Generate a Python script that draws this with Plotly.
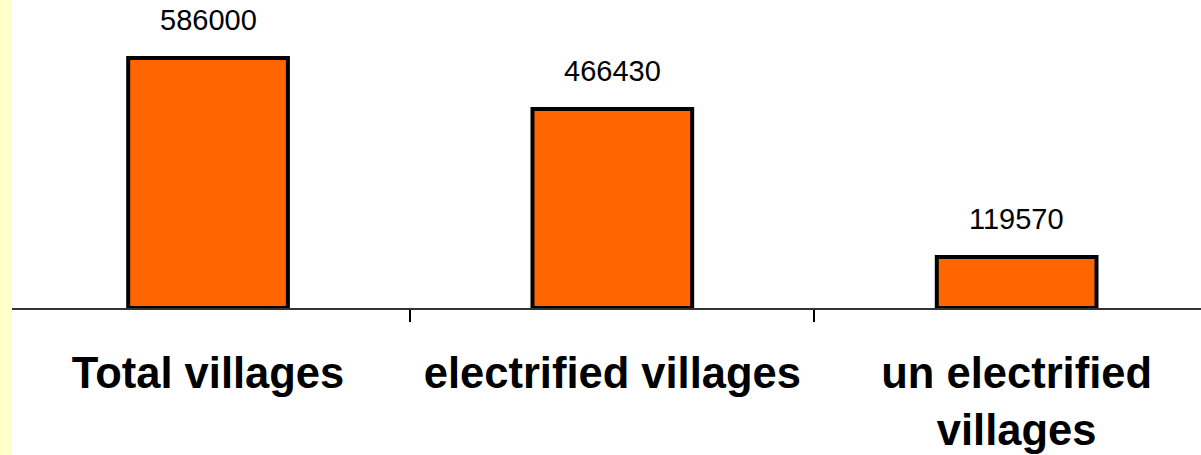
import plotly.graph_objects as go

# Village electrification counts
categories = ["Total villages", "electrified villages", "un electrified<br>villages"]
villages = [586000, 466430, 119570]

W, H = 1201, 455
LEFT, BOTTOM = 12, 147

fig = go.Figure(
    go.Bar(
        x=categories,
        y=villages,
        width=0.395,
        marker=dict(color="#FF6600", line=dict(color="#000000", width=4)),
        hoverinfo="skip",
    )
)

# value labels above each bar
for cat, val in zip(categories, villages):
    fig.add_annotation(
        x=cat, y=val, text=str(val), showarrow=False,
        yanchor="bottom", yshift=20,
        font=dict(family="Liberation Sans, Arial, sans-serif", size=29, color="#000000"),
    )

# pale yellow strip along the left edge
fig.add_shape(
    type="rect", xref="paper", yref="paper",
    x0=-LEFT / (W - LEFT), x1=0, y0=-2, y1=2,
    fillcolor="#FFFFC8", line=dict(width=0), layer="below",
)

plot_h = H - BOTTOM
y_top = villages[0] * plot_h / 250.0

fig.update_layout(
    width=W, height=H,
    margin=dict(l=LEFT, r=0, t=0, b=BOTTOM),
    paper_bgcolor="#FFFFFF", plot_bgcolor="#FFFFFF",
    showlegend=False,
    xaxis=dict(
        range=[-0.4849, 2.456],
        showline=True, linecolor="#333333", linewidth=2,
        ticks="outside", tickson="boundaries", ticklen=12, tickwidth=2, tickcolor="#000000",
        ticklabelstandoff=26,
        showgrid=False, zeroline=False,
        tickfont=dict(family="Liberation Sans, Arial, sans-serif", size=43.5, color="#000000", weight="bold"),
    ),
    yaxis=dict(range=[0, y_top], visible=False, showgrid=False, zeroline=False),
)

fig.write_html("out.html", config={"displayModeBar": False})
